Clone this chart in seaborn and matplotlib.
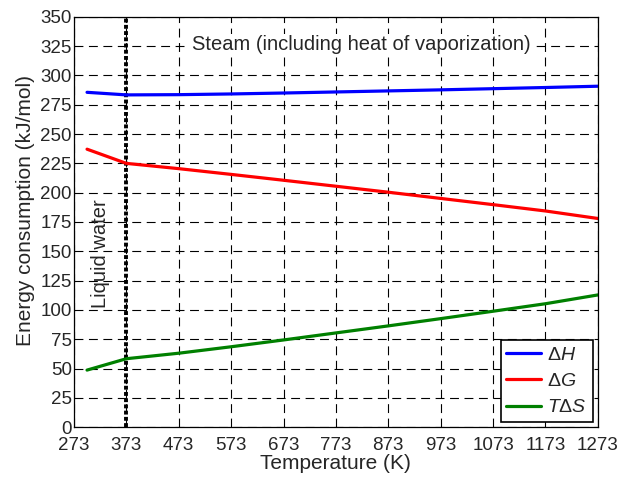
import matplotlib
matplotlib.use("Agg")
import matplotlib.pyplot as plt
import seaborn as sns
import pandas as pd

temps = [298, 373, 473, 573, 673, 773, 873, 973, 1073, 1173, 1273]
dH = [285.6, 283.4, 283.6, 284.2, 285.0, 285.9, 286.8, 287.7, 288.7, 289.7, 290.8]
dG = [237.1, 225.0, 220.5, 215.6, 210.6, 205.5, 200.4, 195.1, 189.8, 184.4, 178.0]
TdS = [48.7, 58.4, 63.1, 68.6, 74.4, 80.4, 86.4, 92.6, 98.9, 105.3, 112.8]
series_names = ["$\\mathit{\\Delta H}$", "$\\mathit{\\Delta G}$", "$\\mathit{T\\Delta S}$"]
colors = ["#0000ff", "#ff0000", "#008000"]
xticks = list(range(273, 1274, 100))
yticks = list(range(0, 351, 25))

sns.set_style("white")
plt.rcParams["font.family"] = ["Liberation Sans", "DejaVu Sans"]
plt.rcParams["mathtext.fontset"] = "custom"
plt.rcParams["mathtext.it"] = "Liberation Sans:italic"
plt.rcParams["mathtext.rm"] = "Liberation Sans"

df = pd.DataFrame({
    "T": temps * 3,
    "E": dH + dG + TdS,
    "s": [series_names[0]] * len(temps) + [series_names[1]] * len(temps) + [series_names[2]] * len(temps),
})

fig = plt.figure(figsize=(6.32, 4.8), dpi=100)
ax = fig.add_axes([0.117, 0.110, 0.829, 0.855])
sns.lineplot(data=df, x="T", y="E", hue="s", palette=colors, linewidth=2.3, ax=ax, legend=True)

ax.axvline(373, color="black", linestyle=(0, (1, 0.6)), linewidth=2.8, zorder=1)
ax.set_xlim(273, 1273)
ax.set_ylim(0, 350)
ax.set_xticks(xticks)
ax.set_yticks(yticks)
ax.grid(True, color="black", linestyle=(0, (8, 5)), linewidth=0.8)
ax.tick_params(direction="in", length=5, labelsize=13.5, color="black")
ax.tick_params(axis="y", pad=1.5)
ax.tick_params(axis="x", pad=7)
for sp in ax.spines.values():
    sp.set_color("black")
    sp.set_linewidth(0.9)
ax.set_xlabel("Temperature (K)", fontsize=15, labelpad=0)
ax.set_ylabel("Energy consumption (kJ/mol)", fontsize=15)
ax.yaxis.set_label_coords(-0.075, 0.529)

ax.text(324, 148, "Liquid water", rotation=90, fontsize=14.5, ha="center", va="center")
ax.text(821, 326, "Steam (including heat of vaporization)", fontsize=14.5, ha="center", va="center",
        bbox=dict(facecolor="white", edgecolor="none", pad=1))

leg = ax.legend(loc="lower right", fontsize=14, frameon=True, fancybox=False,
                edgecolor="black", framealpha=1, borderaxespad=0.26, handlelength=1.8,
                labelspacing=0.45, borderpad=0.3, handletextpad=0.3)
leg.get_frame().set_linewidth(1.2)

fig.savefig("out.png", dpi=100)
